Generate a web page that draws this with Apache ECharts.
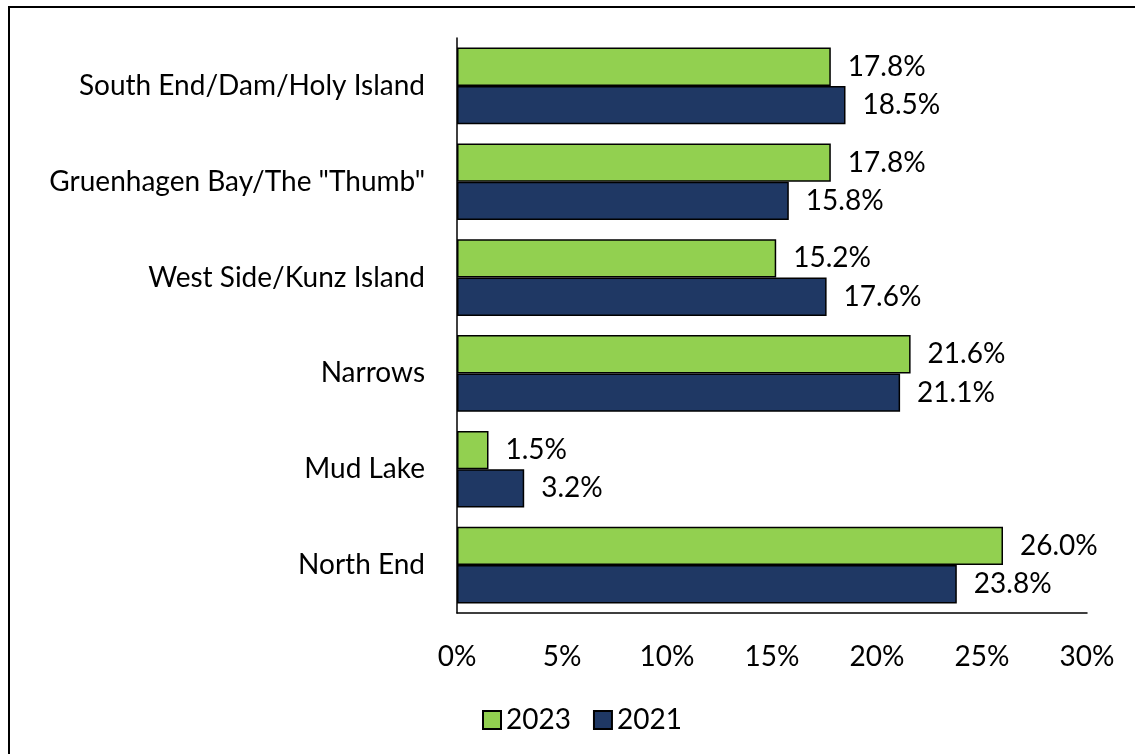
<!DOCTYPE html>
<html>
<head>
<meta charset="utf-8">
<script src="https://cdn.jsdelivr.net/npm/echarts@6/dist/echarts.min.js"></script>
<style>
  html, body { margin: 0; padding: 0; background: #fff; overflow: hidden; }
  #frame { position: absolute; left: 8px; top: 6px; width: 1140px; height: 760px; border-left: 2px solid #000; border-top: 2px solid #000; }
  #chart { position: absolute; left: 0; top: 0; width: 1135px; height: 754px; }
</style>
</head>
<body>
<div id="frame"></div>
<div id="chart"></div>
<script>
  const categories = [
    'South End/Dam/Holy Island',
    'Gruenhagen Bay/The "Thumb"',
    'West Side/Kunz Island',
    'Narrows',
    'Mud Lake',
    'North End'
  ];
  const values2023 = [17.8, 17.8, 15.2, 21.6, 1.5, 26.0];
  const values2021 = [18.5, 15.8, 17.6, 21.1, 3.2, 23.8];
  const xTicks = [0, 5, 10, 15, 20, 25, 30];

  const chart = echarts.init(document.getElementById('chart'));
  const font = 'Lato, "Open Sans", sans-serif';
  const fs = 28;

  const labelStyle = {
    show: true,
    position: 'right',
    distance: 17,
    color: '#000',
    fontSize: fs,
    fontFamily: font,
    formatter: (p) => p.value.toFixed(1) + '%'
  };

  const option = {
    animation: false,
    textStyle: { fontFamily: font },
    grid: { left: 457, right: 48, top: 38, bottom: 141 },
    legend: {
      top: 701,
      left: 477,
      icon: 'rect',
      itemWidth: 18,
      itemHeight: 18,
      itemGap: 22,
      textStyle: { fontSize: fs, color: '#000', fontFamily: font },
      data: ['2023', '2021']
    },
    xAxis: {
      type: 'value',
      min: xTicks[0],
      max: xTicks[xTicks.length - 1],
      interval: 5,
      axisLine: { show: true, lineStyle: { color: '#000', width: 1.5 } },
      axisTick: { show: false },
      splitLine: { show: false },
      axisLabel: {
        color: '#000',
        fontSize: fs,
        fontFamily: font,
        margin: 30,
        formatter: (v) => v + '%'
      }
    },
    yAxis: {
      type: 'category',
      inverse: true,
      data: categories,
      axisLine: { show: true, lineStyle: { color: '#000', width: 1.5 } },
      axisTick: { show: false },
      axisLabel: { color: '#000', fontSize: fs, fontFamily: font, margin: 32 }
    },
    series: [
      {
        name: '2023',
        type: 'bar',
        data: values2023,
        barGap: '0%',
        barCategoryGap: '20%',
        itemStyle: { color: '#92D050', borderColor: '#000', borderWidth: 1.5 },
        label: labelStyle
      },
      {
        name: '2021',
        type: 'bar',
        data: values2021,
        itemStyle: { color: '#1F3864', borderColor: '#000', borderWidth: 1.5 },
        label: labelStyle
      }
    ]
  };

  chart.setOption(option);
</script>
</body>
</html>
